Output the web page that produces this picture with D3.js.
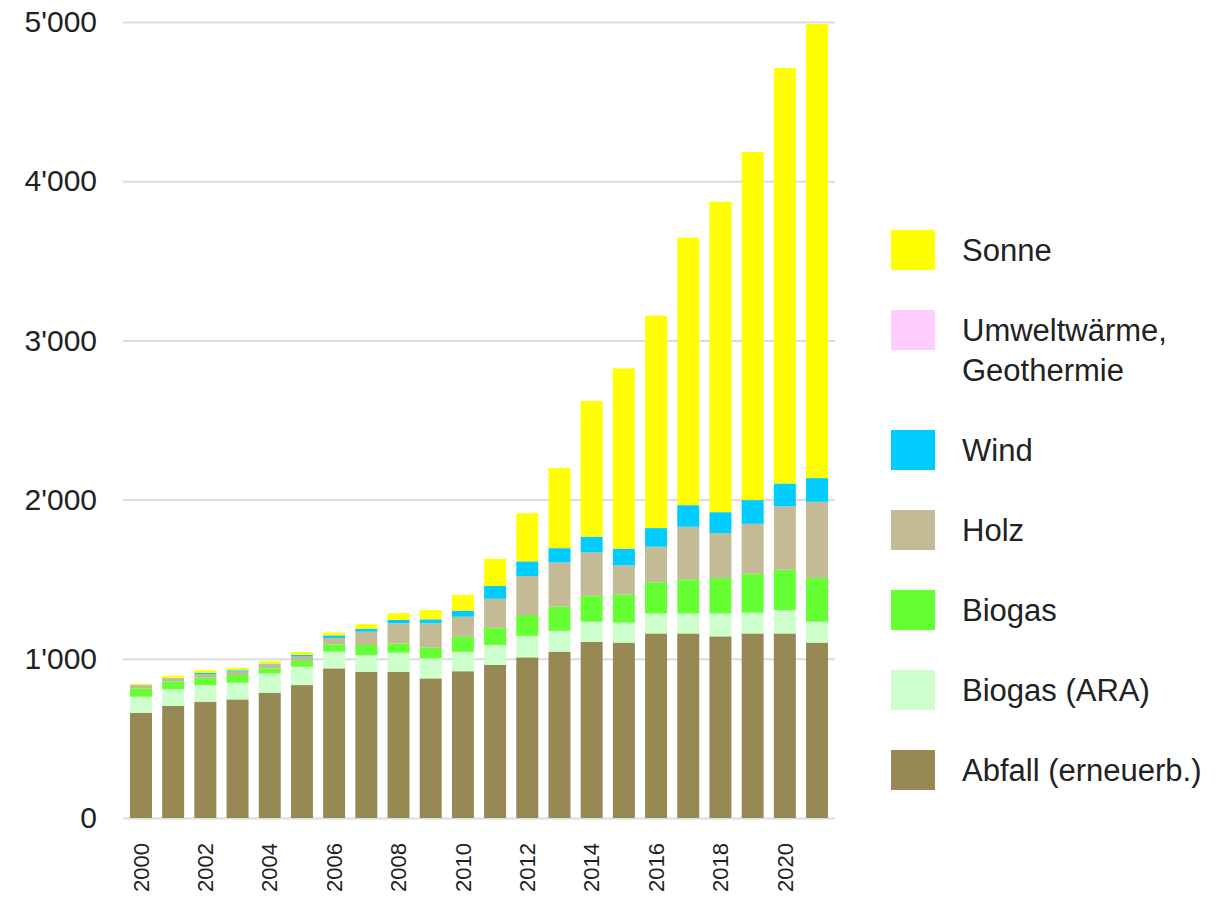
<!DOCTYPE html>
<html>
<head>
<meta charset="utf-8">
<script src="https://cdn.jsdelivr.net/npm/d3@7"></script>
<style>
  body { margin: 0; background: #fff; }
  svg { display: block; }
  text { font-family: "Liberation Sans", Arial, sans-serif; fill: #222; }
</style>
</head>
<body>
<svg id="chart" width="1227" height="904"></svg>
<script>
// Erneuerbare Stromproduktion nach Quelle, GWh pro Jahr
const years = [2000, 2001, 2002, 2003, 2004, 2005, 2006, 2007, 2008, 2009, 2010,
               2011, 2012, 2013, 2014, 2015, 2016, 2017, 2018, 2019, 2020, 2021];

const abfall  = [661, 704, 731, 745, 787, 835, 940, 919, 919, 877, 922,
                 961, 1009, 1045, 1107, 1102, 1159, 1159, 1141, 1159, 1159, 1102];
const biogasAra = [101, 104, 104, 105, 120, 115, 105, 105, 119, 126, 122,
                   126, 135, 131, 126, 125, 126, 126, 144, 131, 147, 131];
const biogas  = [52, 50, 46, 48, 33, 36, 46, 63, 59, 69, 94,
                 108, 131, 152, 163, 176, 196, 215, 222, 244, 254, 274];
const holz    = [20, 20, 22, 22, 25, 28, 40, 83, 126, 151, 126,
                 182, 245, 277, 273, 183, 223, 329, 283, 314, 398, 479];
const wind    = [2, 2, 8, 8, 5, 10, 16, 18, 21, 25, 38,
                 80, 92, 90, 98, 105, 117, 136, 131, 149, 143, 149];
const umwelt  = [0, 0, 0, 0, 0, 0, 0, 0, 0, 0, 0,
                 0, 0, 0, 0, 0, 0, 0, 0, 0, 0, 0];
const sonne   = [8, 14, 18, 15, 15, 19, 18, 30, 42, 58, 100,
                 171, 302, 503, 852, 1133, 1335, 1680, 1950, 2186, 2610, 2852];

// Stack order, bottom to top
const seriesKeys   = ["abfall", "biogasAra", "biogas", "holz", "wind", "umwelt", "sonne"];
const seriesValues = [abfall, biogasAra, biogas, holz, wind, umwelt, sonne];
const seriesLabels = {
  sonne: ["Sonne"],
  umwelt: ["Umweltwärme,", "Geothermie"],
  wind: ["Wind"],
  holz: ["Holz"],
  biogas: ["Biogas"],
  biogasAra: ["Biogas (ARA)"],
  abfall: ["Abfall (erneuerb.)"]
};
const seriesColors = {
  abfall: "#968954",
  biogasAra: "#ccffcc",
  biogas: "#66ff33",
  holz: "#c4ba95",
  wind: "#00ccff",
  umwelt: "#ffccff",
  sonne: "#ffff00"
};
const legendOrder = ["sonne", "umwelt", "wind", "holz", "biogas", "biogasAra", "abfall"];

const yTicks = [0, 1000, 2000, 3000, 4000, 5000];
const xTickYears = [2000, 2002, 2004, 2006, 2008, 2010, 2012, 2014, 2016, 2018, 2020];

// Table for d3.stack
const rows = years.map((yr, i) => {
  const r = { year: yr };
  seriesKeys.forEach((k, j) => { r[k] = seriesValues[j][i]; });
  return r;
});

const svg = d3.select("#chart");

const plotLeft = 123, plotRight = 835;
const x = d3.scaleBand()
  .domain(years)
  .range([124.5, 833.5])
  .paddingInner(0.317)
  .paddingOuter(0.17);

const y = d3.scaleLinear().domain([0, 5000]).range([818, 22]);

const fmt = d3.formatLocale({ decimal: ".", thousands: "'", grouping: [3], currency: ["", ""] }).format(",d");

// Y axis with gridlines
const yAxis = svg.append("g")
  .attr("transform", `translate(${plotLeft},0)`)
  .call(d3.axisLeft(y)
    .tickValues(yTicks)
    .tickSize(-(plotRight - plotLeft))
    .tickPadding(26)
    .tickFormat(fmt));
yAxis.select(".domain").remove();
yAxis.selectAll(".tick line").attr("stroke", "#dcdcdc").attr("stroke-width", 2);
yAxis.selectAll(".tick text")
  .attr("font-size", 30)
  .attr("fill", "#222")
  .attr("font-family", "'Liberation Sans', Arial, sans-serif");

// Stacked bars
const stacked = d3.stack().keys(seriesKeys)(rows);
svg.append("g")
  .selectAll("g")
  .data(stacked)
  .join("g")
  .attr("fill", d => seriesColors[d.key])
  .selectAll("rect")
  .data(d => d)
  .join("rect")
  .attr("x", d => x(d.data.year))
  .attr("width", x.bandwidth())
  .attr("y", d => y(d[1]))
  .attr("height", d => Math.max(0, y(d[0]) - y(d[1])));

// X axis with rotated year labels
const xAxis = svg.append("g")
  .attr("transform", `translate(0,${y(0)})`)
  .call(d3.axisBottom(x).tickValues(xTickYears).tickSize(0));
xAxis.select(".domain").remove();
xAxis.selectAll(".tick text")
  .attr("transform", "rotate(-90)")
  .attr("text-anchor", "end")
  .attr("x", -25)
  .attr("y", 0)
  .attr("dy", "0.35em")
  .attr("font-size", 22)
  .attr("fill", "#222")
  .attr("font-family", "'Liberation Sans', Arial, sans-serif");

// Legend
const legend = svg.append("g").attr("transform", "translate(891,250)");
let rowY = 0;
legendOrder.forEach(key => {
  const lines = seriesLabels[key];
  const item = legend.append("g").attr("transform", `translate(0,${rowY})`);
  item.append("rect")
    .attr("x", 0).attr("y", -20)
    .attr("width", 44).attr("height", 40)
    .attr("fill", seriesColors[key]);
  const t = item.append("text")
    .attr("x", 71)
    .attr("y", 0)
    .attr("font-size", 31);
  lines.forEach((ln, i) => {
    t.append("tspan")
      .attr("x", 71)
      .attr("y", i * 40)
      .attr("dy", "0.35em")
      .text(ln);
  });
  rowY += 80 + 40 * (lines.length - 1);
});
</script>
</body>
</html>
